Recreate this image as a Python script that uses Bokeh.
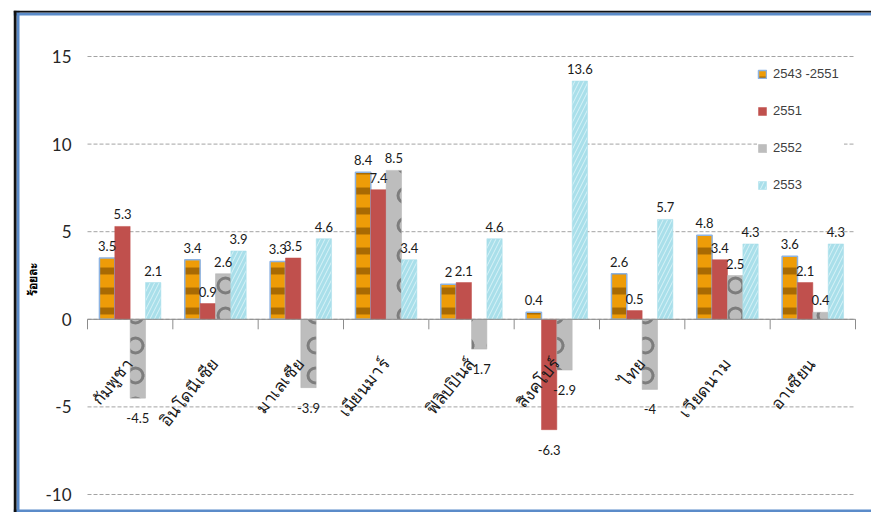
import math
from bokeh.plotting import figure
from bokeh.models import Span, ColumnDataSource, Range1d
from bokeh.core.properties import value
from bokeh.embed import file_html
from bokeh.resources import INLINE

categories = ["กัมพูชา", "อินโดนีเซีย", "มาเลเซีย", "เมียนมาร์", "ฟิลิปปินส์",
              "สิงคโปร์", "ไทย", "เวียดนาม", "อาเซียน"]
series_names = ["2543 -2551", "2551", "2552", "2553"]
s_2543_2551 = [3.5, 3.4, 3.3, 8.4, 2, 0.4, 2.6, 4.8, 3.6]
s_2551 = [5.3, 0.9, 3.5, 7.4, 2.1, -6.3, 0.5, 3.4, 2.1]
s_2552 = [-4.5, 2.6, -3.9, 8.5, -1.7, -2.9, -4, 2.5, 0.4]
s_2553 = [2.1, 3.9, 4.6, 3.4, 4.6, 13.6, 5.7, 4.3, 4.3]
y_ticks = [-10, -5, 0, 5, 10, 15]
y_label = "ร้อยละ"

series_values = [s_2543_2551, s_2551, s_2552, s_2553]
n_cat = len(categories)
cat_pos = [i + 0.5 for i in range(n_cat)]          # category centres on the x scale
offsets = [-0.27, -0.09, 0.09, 0.27]
bar_w = 0.18
styles = [
    dict(fill_color="#EE9C08", line_color="#8DB3E2", line_width=1.5,
         hatch_pattern="horizontal_line", hatch_color="#7A4A00", hatch_scale=20,
         hatch_weight=7, hatch_alpha=0.6),
    dict(fill_color="#C0504D", line_color="#C0504D", line_width=0.5),
    dict(fill_color="#BDBDBD", line_color="#B5B5B5", line_width=0.5,
         hatch_pattern="ring", hatch_color="#2E2E2E", hatch_scale=30,
         hatch_weight=3, hatch_alpha=0.45),
    dict(fill_color="#A9DFEA", line_color="#A9DFEA", line_width=0.5,
         hatch_pattern="right_diagonal_line", hatch_color="#E2F6FA",
         hatch_scale=9, hatch_weight=1, hatch_alpha=0.8),
]

W, H = 871, 512
FL, FT = 13, 10                     # frame starts here (whole chart box)
px_x = 768 / n_cat                  # pixels per category
px_y = 438 / (y_ticks[-1] - y_ticks[0])
x0_px, ytop_px = 87, 56             # where x=0 and y=15 fall on the canvas

x_start = -(x0_px - FL) / px_x
x_end = n_cat + (W - (x0_px + 768)) / px_x
y_end = y_ticks[-1] + (ytop_px - FT) / px_y
y_start = y_ticks[0] - (H - (ytop_px + 438)) / px_y

p = figure(width=W, height=H, x_range=Range1d(x_start, x_end),
           y_range=Range1d(y_start, y_end), output_backend="svg",
           toolbar_location=None, min_border_left=FL, min_border_right=0,
           min_border_top=FT, min_border_bottom=0)
p.background_fill_color = "white"
p.border_fill_color = "white"
p.outline_line_color = None
p.xaxis.visible = False
p.yaxis.visible = False
p.xgrid.visible = False
p.ygrid.visible = False

# dashed horizontal gridlines across the category area
p.segment(x0=[0] * len(y_ticks), x1=[n_cat] * len(y_ticks), y0=y_ticks, y1=y_ticks,
          line_color="#A3A3A3", line_dash="4 2", line_width=1)

# bars
for name, vals, off, st in zip(series_names, series_values, offsets, styles):
    src = ColumnDataSource(dict(x=[c + off for c in cat_pos], val=vals))
    p.vbar(x="x", top="val", bottom=0, width=bar_w, source=src,
           legend_label=name, **st)

# category axis line at zero with ticks at category boundaries
bounds = list(range(n_cat + 1))
p.segment(x0=[0], x1=[n_cat], y0=[0], y1=[0], line_color="#8C8C8C", line_width=1)
p.segment(x0=bounds, x1=bounds, y0=[0] * len(bounds), y1=[-10 / px_y] * len(bounds),
          line_color="#8C8C8C", line_width=1)

# y tick labels and title
ysrc = ColumnDataSource(dict(x=[0] * len(y_ticks), y=y_ticks, t=[str(t) for t in y_ticks]))
p.text(x="x", y="y", text="t", source=ysrc, x_offset=-16, text_align="right",
       text_baseline="middle", text_font=value("Lato"), text_font_size="17px",
       text_color="#262626")
p.text(x=[0], y=[(y_ticks[0] + y_ticks[-1]) / 2], text=[y_label], x_offset=-55,
       y_offset=4, angle=math.pi / 2, text_align="center", text_baseline="middle",
       text_font=value("Noto Sans"), text_font_style="bold", text_font_size="12px",
       text_color="#000000")

# value labels
for vals, off in zip(series_values, offsets):
    pos = [(c + off, v) for c, v in zip(cat_pos, vals) if v >= 0]
    neg = [(c + off, v) for c, v in zip(cat_pos, vals) if v < 0]
    if pos:
        s = ColumnDataSource(dict(x=[a for a, _ in pos], val=[v for _, v in pos],
                                  lab=[f"{v:g}" for _, v in pos]))
        p.text(x="x", y="val", text="lab", source=s, text_align="center",
               text_baseline="bottom", y_offset=-7, text_font=value("Lato"),
               text_font_size="13px", text_color="#1A1A1A")
    if neg:
        s = ColumnDataSource(dict(x=[a for a, _ in neg], val=[v for _, v in neg],
                                  lab=[f"{v:g}" for _, v in neg]))
        p.text(x="x", y="val", text="lab", source=s, text_align="center",
               text_baseline="top", y_offset=15, text_font=value("Lato"),
               text_font_size="13px", text_color="#1A1A1A")

# category labels, rotated, hanging below the zero line
cat_src = ColumnDataSource(dict(x=cat_pos, y=[0] * n_cat, cat=categories))
p.text(x="x", y="y", text="cat", source=cat_src, angle=0.89,
       text_align="right", text_baseline="middle", x_offset=-1, y_offset=41,
       text_font=value("Noto Sans"), text_font_size="17px", text_color="#1A1A1A")

# legend
lg = p.legend[0]
lg.margin = 0
lg.padding = 8
lg.spacing = 22
lg.label_height = 12
lg.glyph_height = 10
lg.glyph_width = 10
lg.label_width = 71
lg.label_standoff = 6
lg.label_text_font = "Liberation Sans"
lg.label_text_font_size = "13px"
lg.label_text_color = "#404040"
lg.border_line_color = None
lg.background_fill_color = "white"
lg.background_fill_alpha = 1.0
lg.location = (757 - FL, H - 192)

# chart box borders (blue inner, black outer)
for loc, dim, col, w in [
    (4.5, "height", "#5B8BC9", 3),     # left blue
    (H - FT - 3.5, "width", "#5B8BC9", 3),  # top blue
    (1.5, "width", "#5B8BC9", 3),       # bottom blue
    (1.5, "height", "#111111", 3),      # left black
    (H - FT - 1, "width", "#111111", 2),    # top black
]:
    p.add_layout(Span(location=loc, location_units="screen", dimension=dim,
                      line_color=col, line_width=w))

open("out.html", "w").write(file_html(p, INLINE))
